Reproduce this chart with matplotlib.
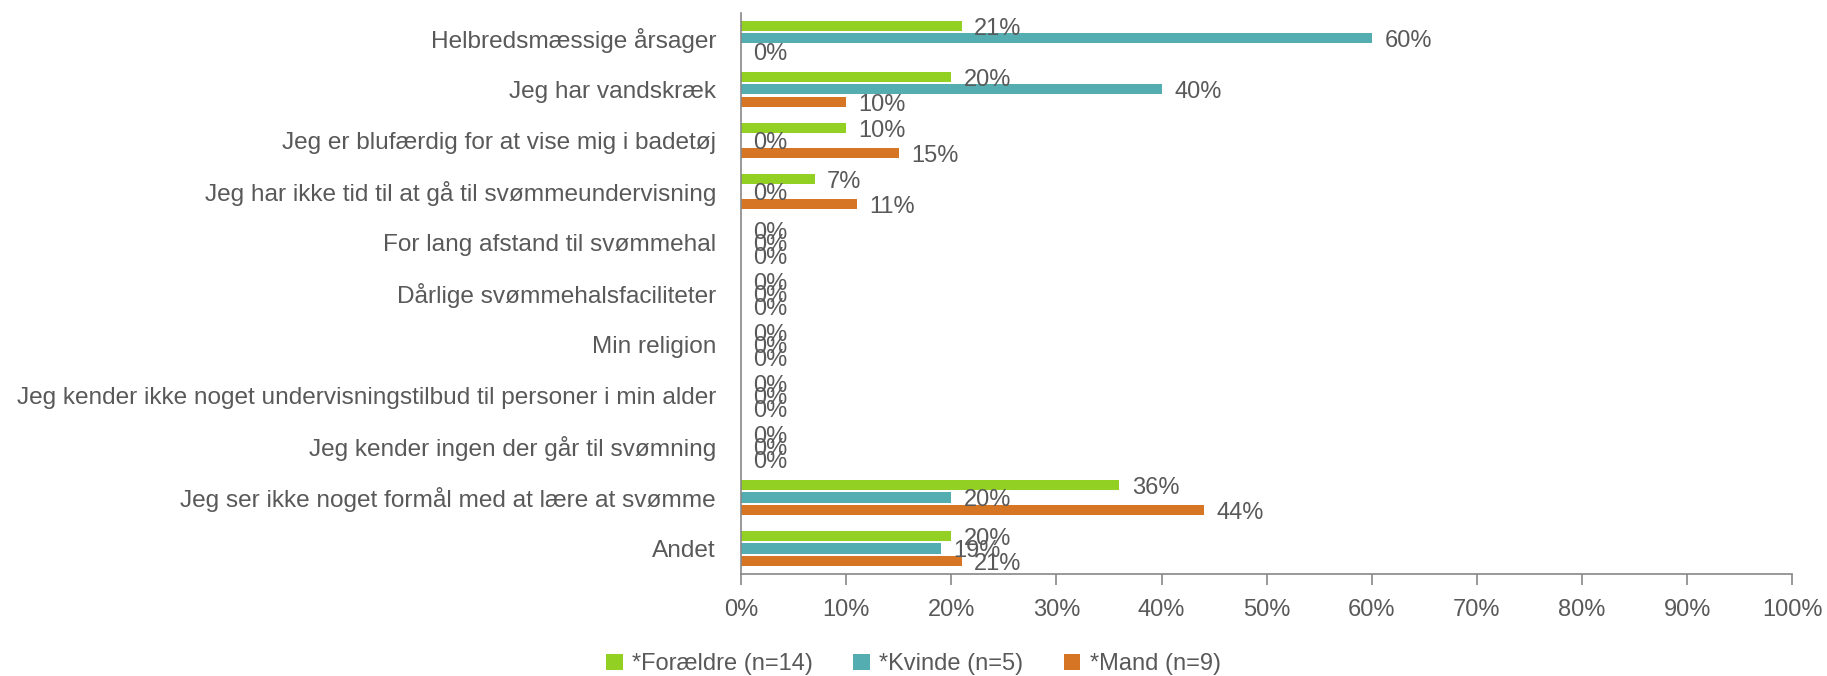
import numpy as np
import matplotlib

matplotlib.use('Agg')

import matplotlib.pyplot as plt
from matplotlib.ticker import FuncFormatter


categories = [
    'Helbredsmæssige årsager',
    'Jeg har vandskræk',
    'Jeg er blufærdig for at vise mig i badetøj',
    'Jeg har ikke tid til at gå til svømmeundervisning',
    'For lang afstand til svømmehal',
    'Dårlige svømmehalsfaciliteter',
    'Min religion',
    'Jeg kender ikke noget undervisningstilbud til personer i min alder',
    'Jeg kender ingen der går til svømning',
    'Jeg ser ikke noget formål med at lære at svømme',
    'Andet',
]
foraeldre = [21, 20, 10, 7, 0, 0, 0, 0, 0, 36, 20]
kvinde = [60, 40, 0, 0, 0, 0, 0, 0, 0, 20, 19]
mand = [0, 10, 15, 11, 0, 0, 0, 0, 0, 44, 21]

series_names = ['*Forældre (n=14)', '*Kvinde (n=5)', '*Mand (n=9)']
series_values = [foraeldre, kvinde, mand]
colors = ['#92D024', '#53ADB1', '#D67624']

TEXT = '#595959'
AXIS = '#888888'
FS = 17

plt.rcParams['font.family'] = ['Liberation Sans', 'DejaVu Sans']

fig = plt.figure(figsize=(18.27, 6.76), dpi=100)
ax = fig.add_axes([0.4056, 0.151, 0.5754, 0.830])

n = len(categories)
y = np.arange(n)
bar_h = 0.2
offsets = [-0.243, 0, 0.243]

for values, name, color, off in zip(series_values, series_names, colors, offsets):
    bars = ax.barh(y + off, values, height=bar_h, color=color, label=name)
    for rect, v in zip(bars, values):
        ax.annotate(f'{v}%', (rect.get_width(), rect.get_y() + rect.get_height() / 2),
                    xytext=(9, -2), textcoords='offset points',
                    ha='left', va='center', fontsize=FS, color=TEXT)

ax.set_xlim(0, 100)
ax.set_ylim(n - 0.5, -0.5)
ax.set_xticks(np.arange(0, 101, 10))
ax.xaxis.set_major_formatter(FuncFormatter(lambda v, _: f'{v:.0f}%'))
ax.set_yticks(y)
ax.set_yticklabels(categories)

ax.tick_params(axis='x', colors=AXIS, labelcolor=TEXT, labelsize=FS, length=8, width=1.2, pad=10)
ax.tick_params(axis='y', length=0, labelcolor=TEXT, labelsize=17.6, pad=18)

for side in ['top', 'right']:
    ax.spines[side].set_visible(False)
for side in ['left', 'bottom']:
    ax.spines[side].set_color(AXIS)
    ax.spines[side].set_linewidth(1.2)

fig.legend(loc='lower center', bbox_to_anchor=(0.5, -0.03), ncol=3, frameon=False,
           fontsize=FS, labelcolor=TEXT, handlelength=0.7, handleheight=0.7,
           handletextpad=0.4, columnspacing=1.7)

plt.savefig('out.png', dpi=100)
plt.close()
